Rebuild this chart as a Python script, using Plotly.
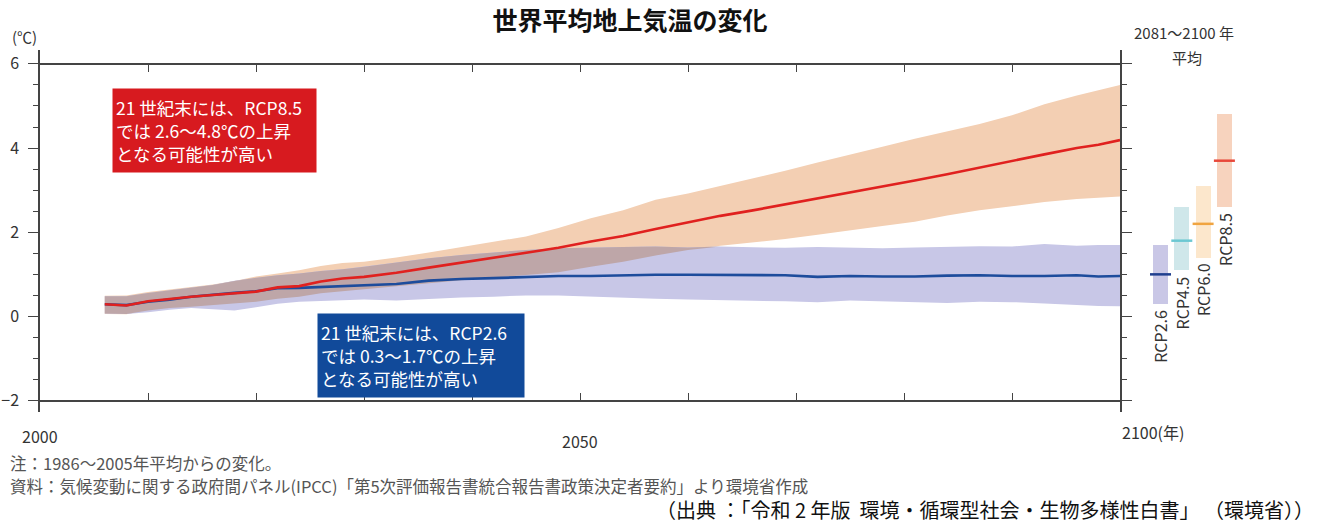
import plotly.graph_objects as go

# ---------------- data ----------------
years = [2006, 2008, 2010, 2012, 2014, 2016, 2018, 2020, 2022, 2024, 2026, 2028, 2030,
         2033, 2036, 2039, 2042, 2045, 2048, 2051, 2054, 2057, 2060, 2063, 2066, 2069,
         2072, 2075, 2078, 2081, 2084, 2087, 2090, 2093, 2096, 2098, 2100]

rcp85_mean = [0.29, 0.26, 0.36, 0.42, 0.47, 0.51, 0.55, 0.59, 0.69, 0.72, 0.83, 0.90, 0.94,
              1.04, 1.16, 1.28, 1.40, 1.51, 1.63, 1.78, 1.91, 2.08, 2.24, 2.39, 2.52, 2.66,
              2.80, 2.94, 3.08, 3.23, 3.38, 3.54, 3.69, 3.85, 4.00, 4.08, 4.19]
rcp85_upper = [0.49, 0.50, 0.58, 0.64, 0.70, 0.76, 0.84, 0.95, 1.02, 1.10, 1.20, 1.27, 1.30,
               1.40, 1.52, 1.65, 1.78, 1.90, 2.10, 2.33, 2.52, 2.77, 2.92, 3.10, 3.28, 3.46,
               3.66, 3.84, 4.03, 4.22, 4.40, 4.57, 4.78, 5.04, 5.25, 5.38, 5.50]
rcp85_lower = [0.06, 0.05, 0.14, 0.20, 0.23, 0.27, 0.30, 0.35, 0.42, 0.47, 0.55, 0.60, 0.64,
               0.72, 0.80, 0.86, 0.92, 0.98, 1.05, 1.18, 1.30, 1.45, 1.58, 1.68, 1.76, 1.84,
               1.94, 2.05, 2.15, 2.25, 2.40, 2.52, 2.62, 2.72, 2.79, 2.82, 2.85]

rcp26_mean = [0.29, 0.27, 0.35, 0.40, 0.47, 0.52, 0.56, 0.60, 0.67, 0.68, 0.70, 0.73, 0.74,
              0.77, 0.85, 0.89, 0.91, 0.94, 0.96, 0.96, 0.98, 0.99, 0.99, 0.99, 0.98, 0.98,
              0.94, 0.96, 0.95, 0.95, 0.97, 0.98, 0.96, 0.96, 0.98, 0.95, 0.96]
rcp26_upper = [0.48, 0.48, 0.56, 0.62, 0.68, 0.75, 0.85, 0.92, 0.98, 1.02, 1.08, 1.12, 1.18,
               1.28, 1.38, 1.46, 1.52, 1.58, 1.62, 1.64, 1.65, 1.66, 1.64, 1.66, 1.65, 1.63,
               1.65, 1.63, 1.62, 1.64, 1.66, 1.67, 1.66, 1.72, 1.68, 1.70, 1.70]
rcp26_lower = [0.07, 0.06, 0.10, 0.16, 0.20, 0.17, 0.14, 0.22, 0.30, 0.35, 0.37, 0.39, 0.40,
               0.38, 0.42, 0.45, 0.47, 0.50, 0.50, 0.47, 0.44, 0.42, 0.40, 0.38, 0.37, 0.36,
               0.34, 0.38, 0.36, 0.33, 0.32, 0.35, 0.34, 0.31, 0.27, 0.25, 0.24]

scenarios = ["RCP2.6", "RCP4.5", "RCP6.0", "RCP8.5"]
avg_low = [0.3, 1.1, 1.4, 2.6]
avg_mean = [1.0, 1.8, 2.2, 3.7]
avg_high = [1.7, 2.6, 3.1, 4.8]

y_ticks = [-2, 0, 2, 4, 6]
x_minor_ticks = [2010, 2020, 2030, 2040, 2050, 2060, 2070, 2080, 2090]

# overlap of the two ranges (derived from the band data)
ov_upper = [min(a, b) for a, b in zip(rcp85_upper, rcp26_upper)]
ov_lower = [min(max(a, b), u) for a, b, u in zip(rcp85_lower, rcp26_lower, ov_upper)]

# ---------------- styling ----------------
FONT = "Noto Sans CJK JP, Noto Sans, sans-serif"
AXC = "#444444"
C_ORANGE_BAND = "#f3cfb3"
C_BLUE_BAND = "#c8c7e7"
C_OVERLAP = "#bea6a8"
bar_fill = ["#c9c7e6", "#cfe7ea", "#fce7cc", "#f7d3be"]
bar_line = ["#1f3f8f", "#6cc8d2", "#f0a440", "#e8483a"]

fig = go.Figure()


def band(lower, upper, color):
    fig.add_trace(go.Scatter(x=years, y=lower, mode="lines", line=dict(width=0),
                             showlegend=False, hoverinfo="skip"))
    fig.add_trace(go.Scatter(x=years, y=upper, mode="lines", line=dict(width=0),
                             fill="tonexty", fillcolor=color,
                             showlegend=False, hoverinfo="skip"))


band(rcp85_lower, rcp85_upper, C_ORANGE_BAND)
band(rcp26_lower, rcp26_upper, C_BLUE_BAND)
band(ov_lower, ov_upper, C_OVERLAP)

# means (RCP8.5 on the overlaying top axis so that the top axis is drawn and the line sits on top)
fig.add_trace(go.Scatter(x=years, y=rcp26_mean, mode="lines",
                         line=dict(color="#1d4c9c", width=2.6), showlegend=False))
fig.add_trace(go.Scatter(x=years, y=rcp85_mean, mode="lines", xaxis="x3", yaxis="y",
                         line=dict(color="#e0211f", width=2.6), showlegend=False))

# 2081-2100 average bars
fig.add_trace(go.Bar(x=list(range(len(scenarios))),
                     y=[h - l for h, l in zip(avg_high, avg_low)], base=avg_low,
                     width=0.7, marker=dict(color=bar_fill, line=dict(width=0)),
                     xaxis="x2", yaxis="y2", showlegend=False))
fig.add_trace(go.Scatter(x=list(range(len(scenarios))), y=avg_mean, mode="markers",
                         marker=dict(symbol="line-ew", size=15,
                                     line=dict(color=bar_line, width=2.5)),
                         xaxis="x2", yaxis="y2", showlegend=False))

# ---------------- layout ----------------
L, R, T, B = 40, 74, 50, 111
W, H = 1324, 523
pw = W - L - R
ph = H - T - B


def px(xp):
    return (xp - L) / pw


def py(yp):
    return (H - B - yp) / ph


ymin, ymax = -2.27, 6.33


def ypos(v):
    return (v - ymin) / (ymax - ymin)


main_dom = [0, px(1120)]

axis_common = dict(showgrid=False, zeroline=False, showline=True, linecolor=AXC,
                   linewidth=1.5, ticks="inside", ticklen=7, tickcolor=AXC,
                   tickwidth=1.3, tickvals=x_minor_ticks, showticklabels=False,
                   range=[2000, 2100], domain=main_dom, automargin=False)

fig.update_layout(
    width=W, height=H,
    margin=dict(l=L, r=R, t=T, b=B, autoexpand=False),
    paper_bgcolor="white", plot_bgcolor="white",
    font=dict(family=FONT, color="#333333"),
    title=dict(text="<b>世界平均地上気温の変化</b>", x=630 / W, xanchor="center",
               y=1 - 21 / H, yanchor="middle",
               font=dict(size=25, color="#111111", family=FONT)),
    xaxis=dict(**axis_common, anchor="free", position=ypos(-2)),
    xaxis3=dict(**axis_common, anchor="free", position=ypos(6), side="top",
                overlaying="x"),
    yaxis=dict(domain=[0, 1], range=[ymin, ymax], anchor="x", showgrid=False,
               zeroline=False, showline=True, linecolor=AXC, linewidth=1.5,
               mirror="ticks", ticks="outside", ticklen=10, tickwidth=1.3,
               tickcolor=AXC, tickvals=y_ticks, ticklabelstandoff=6, automargin=False,
               tickfont=dict(size=16, color="#333333"),
               minor=dict(tickvals=[v / 2 for v in range(-4, 13) if v % 4 != 0],
                          ticks="outside", ticklen=5, tickcolor=AXC, tickwidth=1.2,
                          showgrid=False)),
    xaxis2=dict(domain=[px(1140), 1.0],
                range=[(1140 - 1160.5) / 21.3, (1250 - 1160.5) / 21.3],
                anchor="y2", visible=False, automargin=False),
    yaxis2=dict(domain=[0, 1], matches="y", anchor="x2", visible=False, automargin=False),
    bargap=0,
)

ann = []
# boxes
ann.append(dict(x=2016.2, y=4.42, xref="x", yref="y",
                text="21 世紀末には、RCP8.5<br>では 2.6～4.8℃の上昇<br>となる可能性が高い",
                showarrow=False, align="left", bgcolor="#d71a1f", borderpad=3,
                width=197, height=77, font=dict(size=17.5, color="white", family=FONT)))
ann.append(dict(x=2035.25, y=-0.92, xref="x", yref="y",
                text="21 世紀末には、RCP2.6<br>では 0.3～1.7℃の上昇<br>となる可能性が高い",
                showarrow=False, align="left", bgcolor="#114a9a", borderpad=3,
                width=200, height=77, font=dict(size=17.5, color="white", family=FONT)))
# axis texts
ann.append(dict(x=px(10), y=py(37), xref="paper", yref="paper", text="(℃)",
                showarrow=False, xanchor="left", yanchor="middle", font=dict(size=15)))
ann.append(dict(x=px(1184), y=py(32), xref="paper", yref="paper", text="2081～2100 年",
                showarrow=False, xanchor="center", yanchor="middle", font=dict(size=15)))
ann.append(dict(x=px(1187), y=py(57), xref="paper", yref="paper", text="平均",
                showarrow=False, xanchor="center", yanchor="middle", font=dict(size=15)))
ann.append(dict(x=2000, y=py(436), xref="x", yref="paper", text="2000",
                showarrow=False, xanchor="center", yanchor="middle", font=dict(size=16)))
ann.append(dict(x=2050, y=py(441), xref="x", yref="paper", text="2050",
                showarrow=False, xanchor="center", yanchor="middle", font=dict(size=16)))
ann.append(dict(x=2100, y=py(432), xref="x", yref="paper", text="2100(年)",
                showarrow=False, xanchor="left", yanchor="middle", font=dict(size=16)))
# notes
ann.append(dict(x=px(8), y=py(463), xref="paper", yref="paper",
                text="注：1986～2005年平均からの変化。",
                showarrow=False, xanchor="left", yanchor="middle",
                font=dict(size=16.5, color="#555555")))
ann.append(dict(x=px(8), y=py(486), xref="paper", yref="paper",
                text="資料：気候変動に関する政府間パネル(IPCC)「第5次評価報告書統合報告書政策決定者要約」より環境省作成",
                showarrow=False, xanchor="left", yanchor="middle",
                font=dict(size=16.5, color="#555555")))
ann.append(dict(x=px(1316), y=py(509), xref="paper", yref="paper",
                text="（出典 ：「令和 2 年版  環境・循環型社会・生物多様性白書」 （環境省））",
                showarrow=False, xanchor="right", yanchor="middle",
                font=dict(size=20, color="#111111")))
# scenario labels
for i, (name, lo) in enumerate(zip(scenarios, avg_low)):
    ann.append(dict(x=i, y=lo, xref="x2", yref="y2", text=name, textangle=-90,
                    showarrow=False, xanchor="center", yanchor="top", yshift=-4,
                    font=dict(size=16, color="#333333")))

fig.update_layout(annotations=ann)

fig.write_html("out.html", config={"displayModeBar": False},
               post_script="document.body.style.margin='0px';document.body.style.overflow='hidden';")
